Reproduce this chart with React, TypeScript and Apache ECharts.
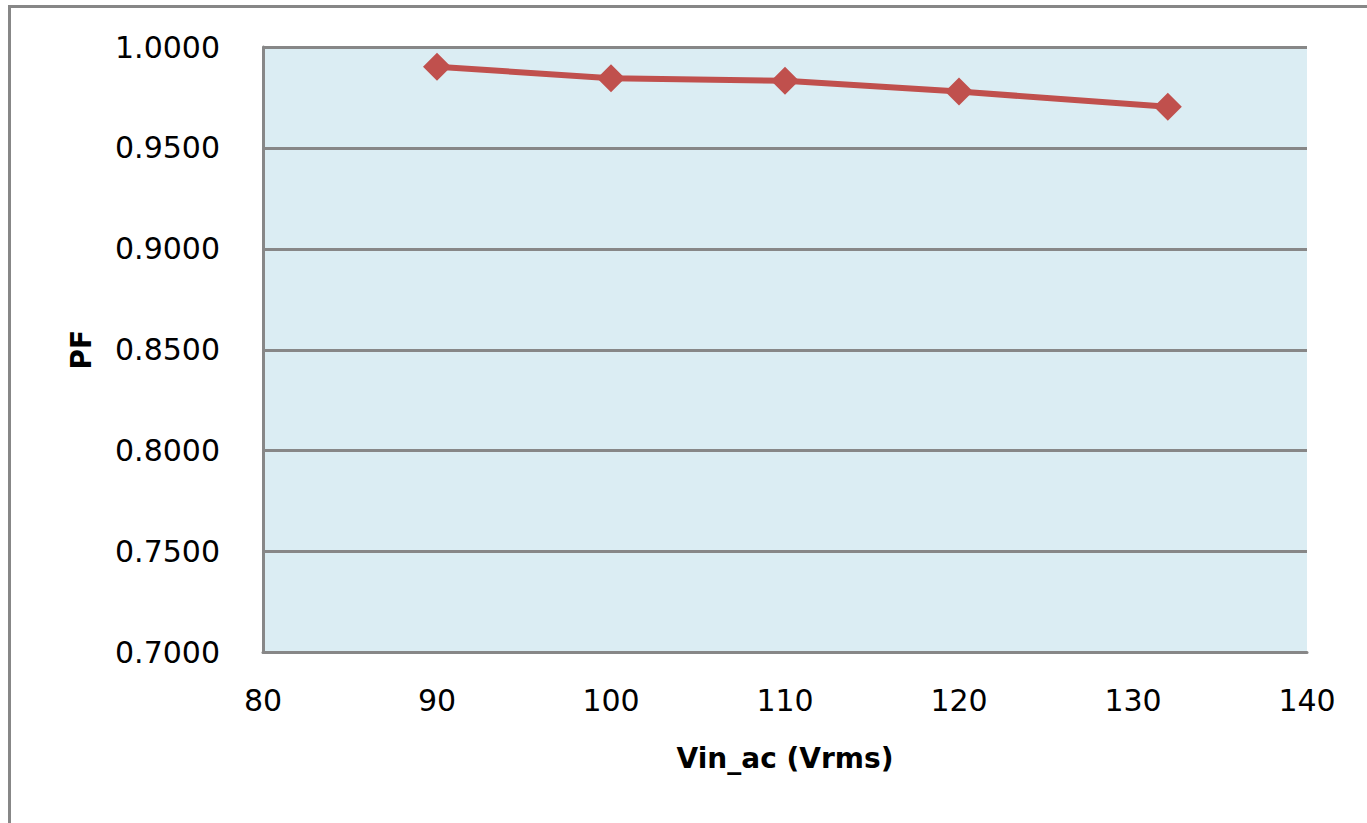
import React, { useEffect, useRef } from "react";
import * as echarts from "echarts";

const vin: number[] = [90, 100, 110, 120, 132];
const pf: number[] = [0.9902, 0.9845, 0.9833, 0.9779, 0.9704];
const xAxisTitle = "Vin_ac (Vrms)";
const yAxisTitle = "PF";

export default function App() {
  const ref = useRef<HTMLDivElement>(null);
  useEffect(() => {
    document.body.style.margin = "0";
    if (!ref.current) return;
    const chart = echarts.init(ref.current, undefined, { renderer: "svg" });
    const font = "DejaVu Sans, Verdana, sans-serif";
    chart.setOption({
      animation: false,
      backgroundColor: "#ffffff",
      graphic: [
        {
          type: "rect",
          shape: { x: 9.5, y: 6.5, width: 1400, height: 900 },
          style: { fill: "none", stroke: "#878787", lineWidth: 3 },
          silent: true,
        },
      ],
      grid: {
        left: 263,
        top: 47,
        right: 60,
        bottom: 170.5,
        show: true,
        backgroundColor: "#DBEDF3",
        borderWidth: 0,
      },
      xAxis: {
        type: "value",
        min: 80,
        max: 140,
        interval: 10,
        name: xAxisTitle,
        nameLocation: "middle",
        nameGap: 92,
        nameTextStyle: { fontFamily: font, fontSize: 28, fontWeight: "bold", color: "#000" },
        axisLine: { show: true, lineStyle: { color: "#878787", width: 3 } },
        axisTick: { show: false },
        splitLine: { show: false },
        axisLabel: { fontFamily: font, fontSize: 30, color: "#000", margin: 33 },
      },
      yAxis: {
        type: "value",
        min: 0.7,
        max: 1.0,
        interval: 0.05,
        name: yAxisTitle,
        nameLocation: "middle",
        nameGap: 168,
        nameRotate: 90,
        nameTextStyle: { fontFamily: font, fontSize: 28, fontWeight: "bold", color: "#000" },
        axisLine: { show: true, lineStyle: { color: "#878787", width: 3 } },
        axisTick: { show: false },
        splitLine: { show: true, lineStyle: { color: "#878787", width: 3 } },
        axisLabel: {
          fontFamily: font,
          fontSize: 30,
          color: "#000",
          margin: 43,
          formatter: (v: number) => v.toFixed(4),
        },
      },
      series: [
        {
          type: "line",
          data: vin.map((x, i) => [x, pf[i]]),
          symbol: "diamond",
          symbolSize: 28,
          lineStyle: { color: "#C0504D", width: 6 },
          itemStyle: { color: "#C0504D" },
        },
      ],
    });
    return () => chart.dispose();
  }, []);
  return <div ref={ref} style={{ width: 1367, height: 823 }} />;
}
